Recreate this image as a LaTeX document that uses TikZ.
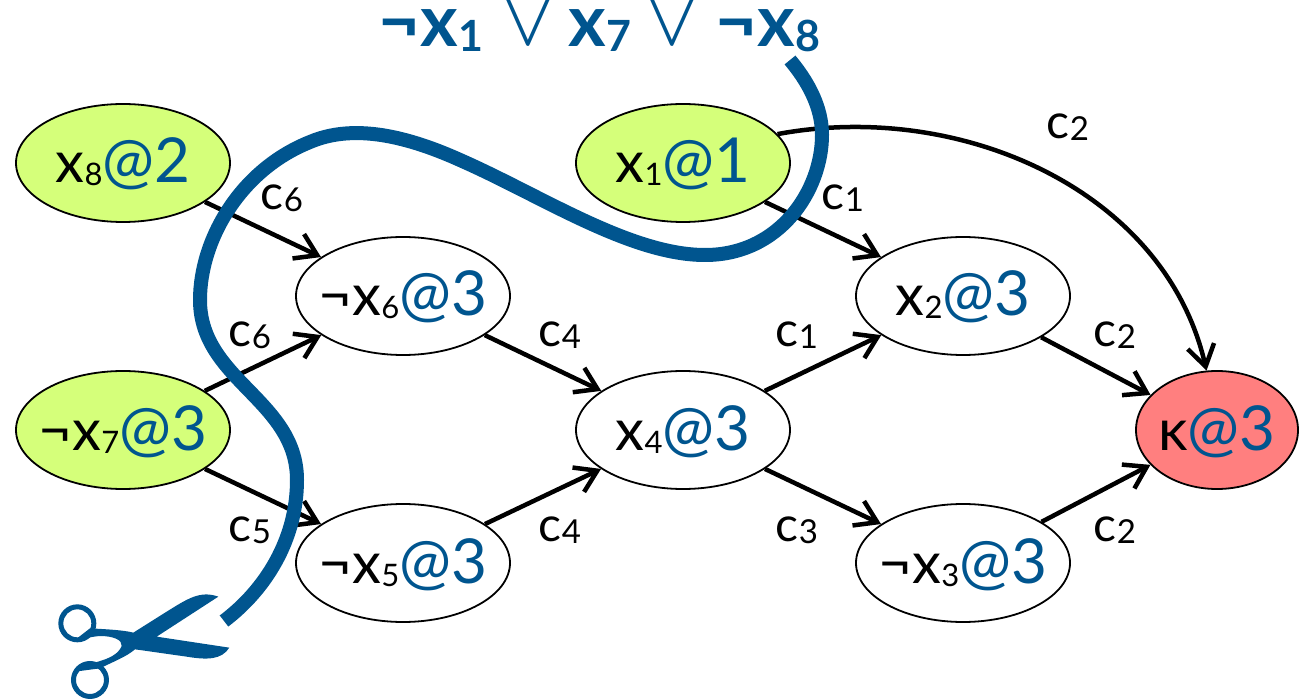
\documentclass[tikz,border=0pt]{standalone}
\usepackage{graphicx}
\usepackage{fontspec}
\setmainfont{Lato}
\usetikzlibrary{arrows.meta,shapes.geometric}
\definecolor{cutblue}{HTML}{00558F}
\definecolor{litgreen}{HTML}{D5FF7A}
\definecolor{conflictred}{HTML}{FF7F7F}
\newcommand{\idx}[1]{{\fontsize{31}{31}\selectfont\raisebox{-3pt}{#1}}}
\newcommand{\lev}[1]{{\color{cutblue}\fontsize{62}{62}\selectfont @#1}}
\newcommand{\bigidx}[1]{{\fontsize{43}{43}\selectfont\raisebox{-5pt}{#1}}}
\newcommand{\ridx}[1]{{\fontsize{33}{33}\selectfont\raisebox{-2pt}{#1}}}
\newcommand{\orsym}{\smash{\raisebox{2pt}{\scalebox{3.6}{\color{cutblue}$\vee$}}}}
\newcommand{\ztxt}[1]{\makebox[0pt][c]{#1}}
\tikzset{
  lit/.style={ellipse,draw=black,line width=1.8pt,minimum width=214pt,minimum height=118pt,inner sep=0pt,font=\fontsize{58}{58}\selectfont,text=black,text height=45pt,text depth=5pt},
  decision/.style={lit,fill=litgreen},
  implied/.style={lit,fill=white},
  conflict/.style={lit,fill=conflictred,minimum width=162pt},
  edge/.style={line width=4.5pt,-{Straight Barb[length=21pt,width=27pt,line width=4.5pt]},black},
  reason/.style={font=\fontsize{48}{48}\selectfont,text=black,inner sep=0pt},
  cut/.style={line width=14pt,cutblue,line cap=butt},
  clause/.style={font=\fontsize{72}{72}\selectfont\bfseries,text=cutblue,inner sep=0pt,anchor=base}
}
\begin{document}
\begin{tikzpicture}[x=1pt,y=-1pt]
\useasboundingbox (0,0) rectangle (1312,700);
\node[decision] (x8) at (123,163) {\ztxt{x\idx{8}\lev{2}}};
\node[decision] (x1) at (683,163) {\ztxt{x\idx{1}\lev{1}}};
\node[decision] (x7) at (123,430) {\ztxt{¬x\idx{7}\lev{3}}};
\node[implied] (n6) at (403,296) {\ztxt{¬x\idx{6}\lev{3}}};
\node[implied] (n5) at (403,563) {\ztxt{¬x\idx{5}\lev{3}}};
\node[implied] (x4) at (683,430) {\ztxt{x\idx{4}\lev{3}}};
\node[implied] (x2) at (963,296) {\ztxt{x\idx{2}\lev{3}}};
\node[implied] (n3) at (963,563) {\ztxt{¬x\idx{3}\lev{3}}};
\node[conflict] (k) at (1217,430) {\ztxt{κ\lev{3}}};
\draw[edge] (x8) -- (n6);
\draw[edge] (x7) -- (n6);
\draw[edge] (x7) -- (n5);
\draw[edge] (n6) -- (x4);
\draw[edge] (n5) -- (x4);
\draw[edge] (x4) -- (x2);
\draw[edge] (x4) -- (n3);
\draw[edge] (x1) -- (x2);
\draw[edge] (x2) -- (k);
\draw[edge] (n3) -- (k);
\draw[edge] (x1.17) .. controls (960,100) and (1165,190) .. (k.100);
\node[reason] (l1) at (282,198) {c\ridx{6}};
\node[reason] (l2) at (250,335) {c\ridx{6}};
\node[reason] (l3) at (250,530) {c\ridx{5}};
\node[reason] (l4) at (560,335) {c\ridx{4}};
\node[reason] (l5) at (560,530) {c\ridx{4}};
\node[reason] (l6) at (797,335) {c\ridx{1}};
\node[reason] (l7) at (797,530) {c\ridx{3}};
\node[reason] (l8) at (843,198) {c\ridx{1}};
\node[reason] (l9) at (1068,127) {c\ridx{2}};
\node[reason] (l10) at (1115,335) {c\ridx{2}};
\node[reason] (l11) at (1115,530) {c\ridx{2}};
\node[clause] (t1) at (431,47) {¬x\bigidx{1}};
\node[clause] (t2) at (528,47) {\orsym};
\node[clause] (t3) at (600,47) {x\bigidx{7}};
\node[clause] (t4) at (672,47) {\orsym};
\node[clause] (t5) at (768,47) {¬x\bigidx{8}};
\draw[cut] (790,60) .. controls (815,90) and (822,115) .. (822,135)
  .. controls (822,190) and (780,255) .. (705,255)
  .. controls (630,255) and (540,195) .. (460,160)
  .. controls (400,133) and (350,125) .. (310,142)
  .. controls (240,170) and (200,240) .. (200,300)
  .. controls (200,380) and (297,400) .. (297,480)
  .. controls (297,540) and (265,590) .. (224,621);
\begin{scope}[shift={(0,540)},x=0.3333pt,y=-0.3333pt]
\fill[cutblue,even odd rule] (232,250) circle [radius=19pt] (232,250) circle [radius=14pt];
\fill[cutblue,even odd rule] (270,420) circle [radius=19pt] (270,420) circle [radius=14pt];
\fill[cutblue] (270,265) .. controls (320,268) and (370,270) .. (400,278)
  -- (500,215) .. controls (560,178) and (600,150) .. (655,170)
  -- (470,290) -- (688,323) .. controls (665,360) and (620,360) .. (560,350)
  -- (405,328) .. controls (380,350) and (340,365) .. (300,385)
  -- (225,395) .. controls (245,365) and (345,370) .. (365,318)
  .. controls (368,300) and (340,288) .. (300,288) .. controls (270,290) and (240,300) .. (225,300) -- cycle;
\end{scope}
\end{tikzpicture}
\end{document}
